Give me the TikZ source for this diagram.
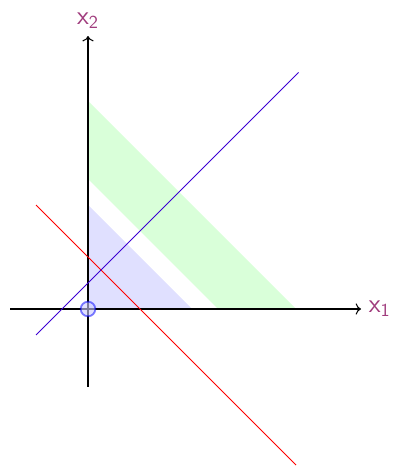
\documentclass[tikz,border=0pt]{standalone}
\usepackage{amsmath,amssymb}
\usepackage{tikz}
\usetikzlibrary{arrows.meta,positioning,calc}

\definecolor{lblcol}{RGB}{160,60,125}
\definecolor{lincol}{RGB}{60,0,210}

\begin{document}
\begin{tikzpicture}[
x=0.5cm, y=0.5cm,
axis/.style={->, semithick},
lbl/.style={text=lblcol, font=\Large, inner sep=4pt},
feasible/.style={fill=green!15},
subset/.style={fill=blue!12},
cut/.style={red},
obj/.style={lincol}
]
\useasboundingbox (-3.385,-6.154) rectangle (11.77,11.885);

% -------- Regions --------
\fill[feasible] (0,5) -- (0,8) -- (8,0) -- (5,0) -- cycle;
\fill[subset] (0,0) -- (0,4) -- (4,0) -- cycle;

% -------- Axes --------
\coordinate (o) at (0,0);
\coordinate (xl) at (-3,0);
\coordinate (xr) at (10.5,0);
\coordinate (yb) at (0,-3);
\coordinate (yt) at (0,10.5);
\draw[axis] (xl) -- (xr) node[lbl, right] (lx1) {$\mathsf{x}_{\mathsf{1}}$};
\draw[axis] (yb) -- (yt) node[lbl, above] (lx2) {$\mathsf{x}_{\mathsf{2}}$};

% -------- Lines --------
\coordinate (c1) at (-2,4);
\coordinate (c2) at (8,-6);
\draw[cut] (c1) -- (c2);
\coordinate (d1) at (-2,-1);
\coordinate (d2) at (8.1,9.1);
\draw[obj] (d1) -- (d2);

% -------- Origin --------
\node[circle, draw=blue, line width=1pt, fill=blue!20, draw opacity=0.5, fill opacity=0.6,
  minimum size=8pt, inner sep=0pt] (orig) at (o) {};

\end{tikzpicture}
\end{document}
